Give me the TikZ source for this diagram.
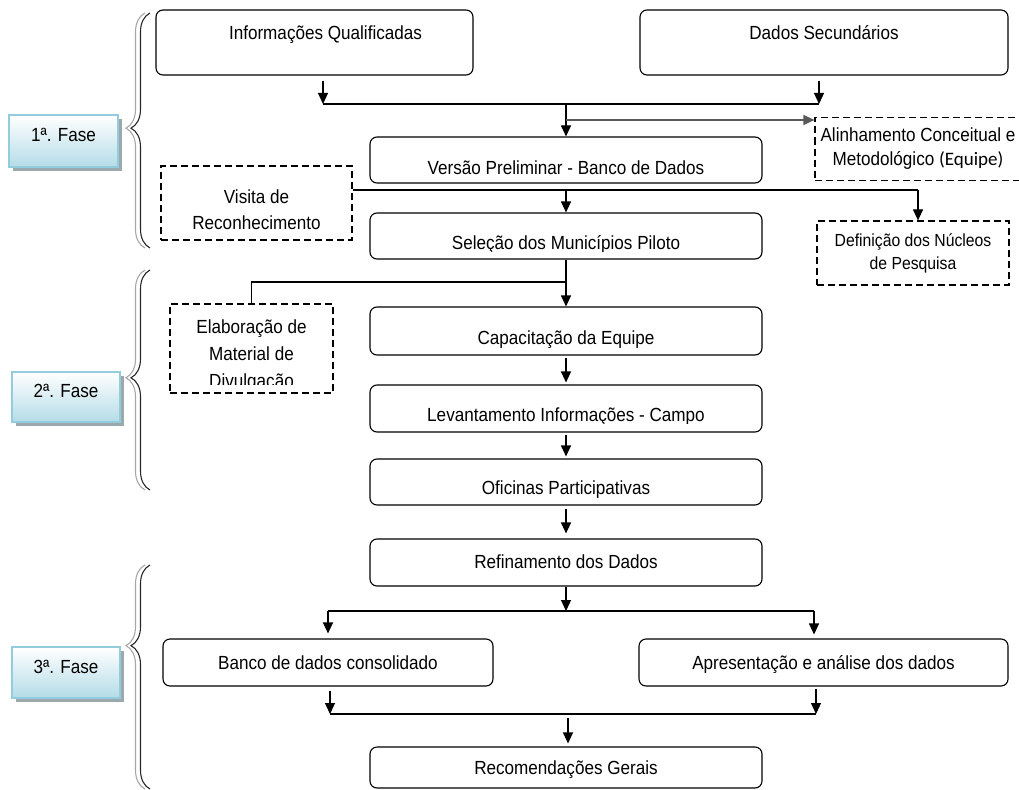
\documentclass[tikz,border=0pt]{standalone}
\usepackage{fontspec}
\setmainfont{Liberation Sans}[FakeStretch=0.9]
\newfontfamily\calibri{Carlito}
\usepackage{tikz}
\usetikzlibrary{arrows.meta,decorations.pathreplacing,shadows,calc}
\definecolor{fasefill}{HTML}{B4DCE7}
\definecolor{faseline}{HTML}{93CDDD}
\definecolor{fasesombra}{HTML}{9BA9AF}
\definecolor{chavecinza}{HTML}{A6A6A6}
\definecolor{setacinza}{HTML}{595959}
\begin{document}
\begin{tikzpicture}[x=1pt,y=-1pt,font=\fontsize{19}{23}\selectfont,
  stepbox/.style={draw,rounded corners=7pt,line width=1.1pt,inner sep=0pt,minimum width=#1},
  stepbox/.default=392pt,
  dashbox/.style={draw,dash pattern=on 7pt off 4pt,line width=1.2pt,align=center,inner sep=0pt},
  fasebox/.style={draw=faseline,line width=1.2pt,top color=white,bottom color=fasefill,inner sep=0pt,
    font=\fontsize{19}{22}\selectfont,
    drop shadow={shadow xshift=4pt,shadow yshift=-4pt,fill=fasesombra,opacity=1}},
  arr/.style={-{Triangle[length=11pt,width=10pt]},line width=1.1pt},
  grayarr/.style={-{Triangle[length=11pt,width=10pt]},line width=1.4pt,setacinza},
  link/.style={line width=1.1pt},
  chave/.style={decorate,decoration={brace,amplitude=19pt,aspect=#1},line width=1.1pt}]
\useasboundingbox (0,0) rectangle (1019,789);
%fases
\node[fasebox,minimum width=109pt,minimum height=52pt,text height=27pt,text depth=25pt] (fase1) at (63.5,141) {1ª. Fase};
\node[fasebox,minimum width=108pt,minimum height=50pt,text height=25pt,text depth=25pt] (fase2) at (66,397) {2ª. Fase};
\node[fasebox,minimum width=108pt,minimum height=51pt,text height=26pt,text depth=25pt] (fase3) at (66,672.5) {3ª. Fase};
\draw[chave=0.51,chavecinza] (145,248) -- (145,13);
\draw[chave=0.51,black!85] (150,248) -- (150,13);
\draw[chave=0.51,chavecinza] (145,490) -- (145,270);
\draw[chave=0.51,black!85] (150,490) -- (150,270);
\draw[chave=0.64,chavecinza] (145,789) -- (145,565);
\draw[chave=0.64,black!85] (150,789) -- (150,565);
%caixas
\node[stepbox=317pt,text height=30pt,text depth=35pt] (info) at (314.5,42.5) {\hspace*{22pt}Informações Qualificadas};
\node[stepbox=368pt,text height=30pt,text depth=35pt] (sec) at (824,42.5) {Dados Secundários};
\node[stepbox,text height=37pt,text depth=9pt] (versao) at (566,160) {Versão Preliminar - Banco de Dados};
\node[dashbox,minimum width=206pt,minimum height=63pt,font=\fontsize{19}{24}\selectfont] (alinh) at (918,149)
  {Alinhamento Conceitual e\\Metodológico {\calibri (Equipe)}};
\node[dashbox,minimum width=191pt,minimum height=74pt] (visita) at (256.5,203) {};
\node[align=center,font=\fontsize{19}{26}\selectfont] (visitatxt) at (256.5,210) {Visita de\\Reconhecimento};
\node[dashbox,minimum width=192pt,minimum height=64pt,font=\fontsize{17.5}{23}\selectfont] (defin) at (913,253) {Definição dos Núcleos\\de Pesquisa};
\node[stepbox,minimum height=46pt] (selecao) at (566,236) {};
\begin{scope}
\clip ($(selecao.south west)+(0,-8)$) rectangle (selecao.north east);
\node[anchor=base] (selecaotxt) at ($(selecao.south)+(0,-10)$) {Seleção dos Municípios Piloto};
\end{scope}
\node[dashbox,minimum width=163pt,minimum height=89pt] (elab) at (251.5,348.5) {};
\begin{scope}
\clip ($(elab.south west)+(0,-9)$) rectangle (elab.north east);
\node[align=center,font=\fontsize{19}{27}\selectfont] (elabtxt) at (251.5,356) {Elaboração de\\Material de\\Divulgação};
\end{scope}
\node[stepbox,minimum height=48pt] (capac) at (566,331) {};
\begin{scope}
\clip ($(capac.south west)+(0,-8)$) rectangle (capac.north east);
\node[anchor=base] (capactxt) at ($(capac.south)+(0,-11)$) {Capacitação da Equipe};
\end{scope}
\node[stepbox,minimum height=47pt] (levant) at (566,408.5) {};
\begin{scope}
\clip ($(levant.south west)+(0,-9)$) rectangle (levant.north east);
\node[anchor=base] (levanttxt) at ($(levant.south)+(0,-11)$) {Levantamento Informações - Campo};
\end{scope}
\node[stepbox,minimum height=46pt] (ofic) at (566,482) {};
\begin{scope}
\clip ($(ofic.south west)+(0,-8)$) rectangle (ofic.north east);
\node[anchor=base] (ofictxt) at ($(ofic.south)+(0,-11)$) {Oficinas Participativas};
\end{scope}
\node[stepbox,text height=29pt,text depth=18pt] (refin) at (566,562.5) {Refinamento dos Dados};
\node[stepbox=330pt,text height=30pt,text depth=17pt] (banco) at (328,662.5) {Banco de dados consolidado};
\node[stepbox=369pt,text height=30pt,text depth=17pt] (apres) at (823.5,662.5) {Apresentação e análise dos dados};
\node[stepbox,text height=27pt,text depth=14pt] (recom) at (566,767.5) {Recomendações Gerais};
%ligacoes
\coordinate (ja) at (323,104);
\coordinate (jb) at (819,104);
\coordinate (jc) at (566,104);
\draw[arr,shorten <=5pt] (info.south -| ja) -- (ja);
\draw[arr,shorten <=5pt] (sec.south -| jb) -- (jb);
\draw[link] (ja) -- (jb);
\draw[arr] (jc) -- (versao.north -| jc);
\coordinate (jg) at (566,120);
\draw[grayarr] (jg) -- (jg -| alinh.west);
\coordinate (jd) at (566,190);
\coordinate (je) at (918,190);
\draw[link] (jd -| visita.east) -- (je);
\draw[arr] (jd) -- (selecao.north -| jd);
\draw[arr] (je) -- (defin.north -| je);
\coordinate (jf) at (566,282);
\draw[arr] (selecao.south -| jf) -- (capac.north -| jf);
\draw[link] (jf) -| (elab.north);
\draw[arr,shorten <=2pt,shorten >=2pt] (capac) -- (levant);
\draw[arr,shorten <=2pt,shorten >=2pt] (levant) -- (ofic);
\draw[arr,shorten <=3pt,shorten >=5pt] (ofic) -- (refin);
\coordinate (jh) at (566,611);
\coordinate (ji) at (328,611);
\coordinate (jj) at (814,611);
\draw[arr] (refin) -- (jh);
\draw[link] (ji) -- (jj);
\draw[arr,shorten >=5pt] (ji) -- (banco.north -| ji);
\draw[arr,shorten >=4pt] (jj) -- (apres.north -| jj);
\coordinate (jk) at (330,714);
\coordinate (jl) at (816,714);
\coordinate (jm) at (568,714);
\draw[arr,shorten <=4pt] (banco.south -| jk) -- (jk);
\draw[arr,shorten <=2pt] (apres.south -| jl) -- (jl);
\draw[link] (jk) -- (jl);
\draw[arr,shorten <=4pt,shorten >=3pt] (jm) -- (recom.north -| jm);
\end{tikzpicture}
\end{document}
